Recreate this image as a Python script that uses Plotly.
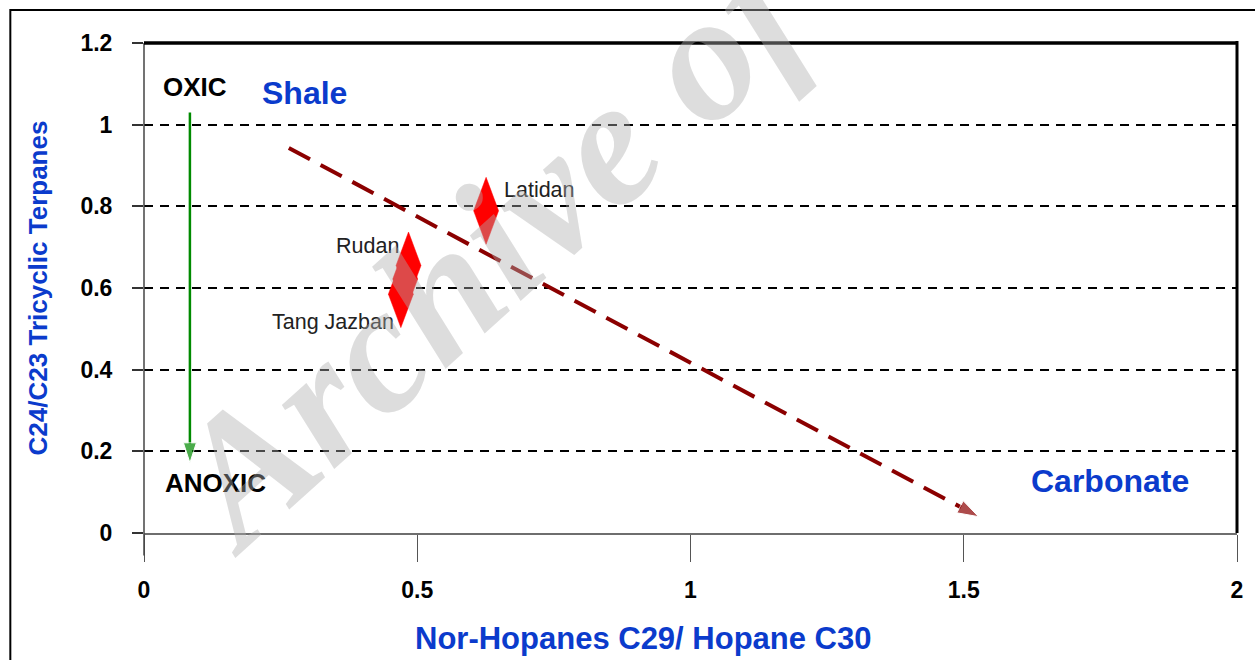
import plotly.graph_objects as go

# ---------------- data ----------------
sample_names = ["Latidan", "Rudan", "Rudan", "Tang Jazban"]
nor_hopane_ratio = [0.626, 0.484, 0.478, 0.470]
tricyclic_ratio = [0.789, 0.655, 0.622, 0.585]

label_names = ["Latidan", "Rudan", "Tang Jazban"]
label_x = [0.724, 0.409, 0.345]
label_y = [0.840, 0.703, 0.517]

trend_x = [0.265, 1.527]
trend_y = [0.943, 0.040]

redox_x = [0.084, 0.084]
redox_y = [1.03, 0.172]

x_ticks = [0, 0.5, 1, 1.5, 2]
x_tick_labels = ["0", "0.5", "1", "1.5", "2"]
y_ticks = [0, 0.2, 0.4, 0.6, 0.8, 1.0, 1.2]
y_tick_labels = ["0", "0.2", "0.4", "0.6", "0.8", "1", "1.2"]

# ---------------- styles ----------------
FONT = "Liberation Sans, Arial, sans-serif"
BLUE = "#0b3bcc"
DARKRED = "#8B0000"
GREEN = "#008a00"
HW, HH = 0.0228, 0.082  # diamond half-width / half-height (data units)

fig = go.Figure()

# diamond markers (tall diamonds) built from the data points
for xv, yv, nm in zip(nor_hopane_ratio, tricyclic_ratio, sample_names):
    fig.add_trace(go.Scatter(
        x=[xv, xv + HW, xv, xv - HW, xv],
        y=[yv + HH, yv, yv - HH, yv, yv + HH],
        mode="lines", fill="toself", fillcolor="#ff0000",
        line=dict(color="#ff0000", width=0.5), name=nm, hoverinfo="name",
    ))

# trend arrow (dashed dark red)
fig.add_trace(go.Scatter(
    x=trend_x, y=trend_y, mode="lines+markers",
    line=dict(color=DARKRED, width=4, dash="24px,12px"),
    marker=dict(symbol="arrow", size=[0, 22], angleref="previous", color=DARKRED),
    hoverinfo="skip",
))

# oxic -> anoxic arrow
fig.add_trace(go.Scatter(
    x=redox_x, y=redox_y, mode="lines+markers",
    line=dict(color=GREEN, width=2.5),
    marker=dict(symbol="arrow", size=[0, 21], angleref="previous", color=GREEN),
    hoverinfo="skip",
))

annotations = []
for nm, lx, ly in zip(label_names, label_x, label_y):
    annotations.append(dict(x=lx, y=ly, xref="x", yref="y", text=nm, showarrow=False,
                            font=dict(family=FONT, size=21.5, color="#222222")))

annotations += [
    dict(x=0.093, y=1.092, xref="x", yref="y", text="OXIC", showarrow=False,
         font=dict(family=FONT, size=26, color="black", weight="bold")),
    dict(x=0.294, y=1.078, xref="x", yref="y", text="Shale", showarrow=False,
         font=dict(family=FONT, size=32, color=BLUE, weight="bold")),
    dict(x=0.131, y=0.122, xref="x", yref="y", text="ANOXIC", showarrow=False,
         font=dict(family=FONT, size=26, color="black", weight="bold")),
    dict(x=1.768, y=0.127, xref="x", yref="y", text="Carbonate", showarrow=False,
         font=dict(family=FONT, size=32, color=BLUE, weight="bold")),
    # x-axis title (offset left of the plot centre as in the original)
    dict(x=0.457, y=-0.216, xref="paper", yref="paper", xanchor="center", yanchor="middle",
         text="Nor-Hopanes C29/ Hopane C30", showarrow=False,
         font=dict(family=FONT, size=31, color=BLUE, weight="bold")),
    # watermark
    dict(x=0.430, y=0.812, xref="paper", yref="paper", xanchor="center", yanchor="middle",
         text="Archive of SID", showarrow=False, textangle=-42,
         font=dict(family="Liberation Serif, Times New Roman, serif", size=180,
                   color="rgba(175,175,175,0.42)", weight="bold", style="italic")),
]

shapes = [
    # y-axis line extending slightly below the x axis
    dict(type="line", xref="paper", yref="paper", x0=0, x1=0, y0=-0.046, y1=1.0,
         line=dict(color="#444444", width=1.5), layer="above"),
    # top border
    dict(type="line", xref="paper", yref="paper", x0=0, x1=1, y0=1, y1=1,
         line=dict(color="black", width=3.5), layer="above"),
    # right border
    dict(type="line", xref="paper", yref="paper", x0=1, x1=1, y0=0, y1=1.004,
         line=dict(color="black", width=3), layer="above"),
    # outer frame
    dict(type="rect", xref="paper", yref="paper", x0=-0.1223, x1=1.06, y0=-0.3, y1=1.0673,
         line=dict(color="black", width=2), fillcolor="rgba(0,0,0,0)", layer="above"),
]

fig.update_layout(
    width=1255, height=660,
    margin=dict(l=144, r=15, t=43, b=127),
    paper_bgcolor="white", plot_bgcolor="white",
    showlegend=False,
    font=dict(family=FONT, color="black"),
    annotations=annotations,
    shapes=shapes,
    xaxis=dict(
        range=[0, 2], tickvals=x_ticks, ticktext=x_tick_labels,
        ticks="outside", ticklen=27, tickcolor="#555555", tickwidth=1,
        showline=True, linecolor="#6e6e6e", linewidth=2,
        showgrid=False, zeroline=False, fixedrange=True,
        ticklabelstandoff=8,
        tickfont=dict(family=FONT, size=23, color="black", weight="bold"),
    ),
    yaxis=dict(
        range=[0, 1.2], tickvals=y_ticks, ticktext=y_tick_labels,
        ticks="outside", ticklen=11, tickcolor="#333333", tickwidth=1.5,
        showline=False, zeroline=False, fixedrange=True,
        showgrid=True, gridcolor="black", gridwidth=2, griddash="9px,7px",
        ticklabelstandoff=15,
        tickfont=dict(family=FONT, size=23, color="black", weight="bold"),
        title=dict(text="C24/C23 Tricyclic Terpanes", standoff=25,
                   font=dict(family=FONT, size=26, color=BLUE, weight="bold")),
    ),
)

fig.write_html("out.html")
